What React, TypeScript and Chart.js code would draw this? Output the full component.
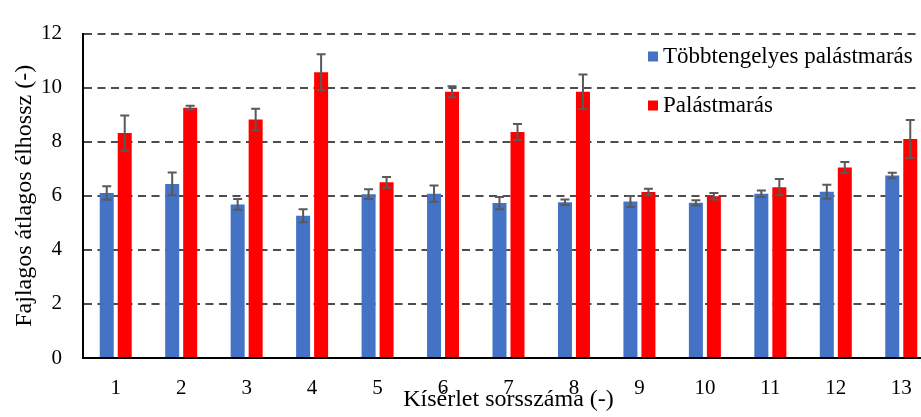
import React, { useEffect, useRef } from "react";
import { Chart, registerables } from "chart.js";

Chart.register(...registerables);

const categories = ["1", "2", "3", "4", "5", "6", "7", "8", "9", "10", "11", "12", "13"];
const blueLabel = "Többtengelyes palástmarás";
const redLabel = "Palástmarás";
const blueValues = [6.1, 6.44, 5.68, 5.26, 6.06, 6.08, 5.73, 5.76, 5.79, 5.74, 6.08, 6.15, 6.75];
const blueErrors = [0.25, 0.42, 0.2, 0.24, 0.18, 0.3, 0.23, 0.1, 0.2, 0.1, 0.12, 0.26, 0.1];
const redValues = [8.32, 9.26, 8.82, 10.57, 6.5, 9.85, 8.36, 9.85, 6.14, 5.98, 6.32, 7.05, 8.1];
const redErrors = [0.65, 0.07, 0.4, 0.67, 0.2, 0.2, 0.3, 0.64, 0.12, 0.12, 0.3, 0.2, 0.7];
const yTickValues = [0, 2, 4, 6, 8, 10, 12];
const xTitle = "Kísérlet sorsszáma (-)";
const yTitle = "Fajlagos átlagos élhossz (-)";

const FONT = "'Liberation Serif', 'Times New Roman', serif";
const errorSets = [blueErrors, redErrors];

const errorBarPlugin = {
  id: "errorBars",
  afterDatasetsDraw(chart: any) {
    const ctx = chart.ctx;
    const yScale = chart.scales.y;
    ctx.save();
    ctx.strokeStyle = "#595959";
    ctx.lineWidth = 2;
    chart.data.datasets.forEach((ds: any, di: number) => {
      const meta = chart.getDatasetMeta(di);
      const errs = errorSets[di];
      meta.data.forEach((bar: any, i: number) => {
        const v = ds.data[i];
        const e = errs[i];
        const x = bar.x;
        const yTop = yScale.getPixelForValue(v + e);
        const yBot = yScale.getPixelForValue(v - e);
        const cap = 4.5;
        ctx.beginPath();
        ctx.moveTo(x, yTop);
        ctx.lineTo(x, yBot);
        ctx.moveTo(x - cap, yTop);
        ctx.lineTo(x + cap, yTop);
        ctx.moveTo(x - cap, yBot);
        ctx.lineTo(x + cap, yBot);
        ctx.stroke();
      });
    });
    ctx.restore();
  },
};

const legendPlugin = {
  id: "insideLegend",
  afterDraw(chart: any) {
    const ctx = chart.ctx;
    ctx.save();
    ctx.font = `23px ${FONT}`;
    ctx.textBaseline = "middle";
    ctx.textAlign = "left";
    const startY = 56.5;
    const rowGap = 49;
    chart.data.datasets.forEach((ds: any, i: number) => {
      const cy = startY + i * rowGap;
      ctx.fillStyle = ds.backgroundColor;
      ctx.fillRect(648, cy - 5, 10, 10);
      ctx.fillStyle = "#000";
      ctx.fillText(ds.label, 663, cy);
    });
    ctx.restore();
  },
};

export default function App() {
  const ref = useRef<HTMLCanvasElement | null>(null);

  useEffect(() => {
    if (!ref.current) return;
    const chart = new Chart(ref.current, {
      type: "bar",
      data: {
        labels: categories,
        datasets: [
          {
            label: blueLabel,
            data: blueValues,
            backgroundColor: "#4472C4",
            categoryPercentage: 0.55,
            barPercentage: 0.778,
          },
          {
            label: redLabel,
            data: redValues,
            backgroundColor: "#FF0000",
            categoryPercentage: 0.55,
            barPercentage: 0.778,
          },
        ],
      },
      options: {
        responsive: false,
        animation: false,
        devicePixelRatio: 1,
        layout: { padding: { top: 22.5, left: 0, right: 0, bottom: 0 }, autoPadding: false },
        plugins: { legend: { display: false }, tooltip: { enabled: false } },
        scales: {
          x: {
            grid: { display: false },
            border: { display: true, color: "#000", width: 2 },
            ticks: { color: "#000", padding: 10, font: { family: FONT, size: 21 } },
            title: {
              display: true,
              text: xTitle,
              color: "#000",
              font: { family: FONT, size: 24 },
              padding: { top: 0, bottom: 2.5 },
            },
            afterFit: (s: any) => {
              s.height = 59;
            },
          },
          y: {
            min: 0,
            max: 12,
            afterBuildTicks: (s: any) => {
              s.ticks = yTickValues.map((v) => ({ value: v }));
            },
            ticks: { color: "#000", padding: 21, font: { family: FONT, size: 21 } },
            grid: { color: "#4d4d4d", lineWidth: 2, drawTicks: false },
            border: { display: true, color: "#000", width: 2, dash: [8, 5.5] },
            title: {
              display: true,
              text: yTitle,
              color: "#000",
              font: { family: FONT, size: 24 },
              padding: { top: 10.8, bottom: 0 },
            },
            afterFit: (s: any) => {
              s.width = 83;
            },
          },
        },
      },
      plugins: [errorBarPlugin, legendPlugin],
    } as any);
    return () => chart.destroy();
  }, []);

  return (
    <div
      style={{
        position: "fixed",
        left: 0,
        top: 0,
        width: 921,
        height: 417,
        overflow: "hidden",
        background: "#fff",
      }}
    >
      <canvas ref={ref} width={934} height={417} style={{ display: "block" }} />
    </div>
  );
}
